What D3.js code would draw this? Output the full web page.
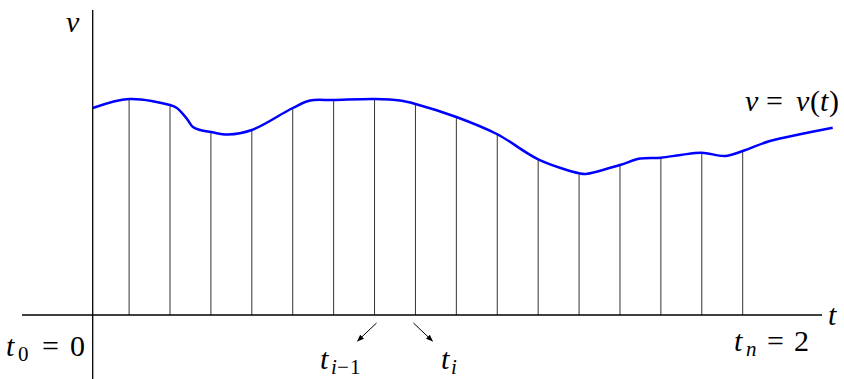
<!DOCTYPE html>
<html><head><meta charset="utf-8">
<script src="https://cdn.jsdelivr.net/npm/d3@7"></script>
</head><body style="margin:0">
<script>
// curve v = v(t)
var tValues = [0.014, 0.125, 0.25, 0.271, 0.302, 0.320, 0.342, 0.375, 0.427, 0.5, 0.625, 0.678, 0.75, 0.875, 0.953, 1.0,
               1.125, 1.25, 1.375, 1.5, 1.52, 1.625, 1.686, 1.75, 1.81, 1.875, 1.946, 2.0, 2.083, 2.175, 2.275];
var vValues = [1.38, 1.44, 1.40, 1.38, 1.307, 1.253, 1.233, 1.22, 1.203, 1.233, 1.38, 1.43, 1.433, 1.44, 1.43, 1.407,
               1.32, 1.205, 1.038, 0.945, 0.94, 1.0, 1.043, 1.049, 1.067, 1.082, 1.06, 1.093, 1.16, 1.205, 1.249];
// partition points t_1 ... t_n
var partition = d3.range(1, 17).map(function(k) { return k / 8; });

// label pieces: main symbols and subscripts
var labelParts = [
  { s: 'v', x: 66, y: 32, it: true },
  { s: 't', x: 828, y: 325, it: true },
  { s: 'v', x: 745, y: 111, it: true }, { s: '=', x: 766, y: 111 }, { s: 'v', x: 796, y: 111, it: true },
  { s: '(', x: 810, y: 111 }, { s: 't', x: 820, y: 111, it: true }, { s: ')', x: 829, y: 111 },
  { s: 't', x: 6, y: 356, it: true }, { s: '0', x: 18, y: 356, sub: true }, { s: '=', x: 42, y: 356 }, { s: '0', x: 70, y: 356 },
  { s: 't', x: 734, y: 351, it: true }, { s: 'n', x: 746, y: 351, it: true, sub: true }, { s: '=', x: 767, y: 351 }, { s: '2', x: 794, y: 351 },
  { s: 't', x: 320, y: 369, it: true }, { s: 'i', x: 331, y: 369, it: true, sub: true },
  { s: '\u2212', x: 337, y: 369, sub: true }, { s: '1', x: 350, y: 369, sub: true },
  { s: 't', x: 441, y: 369, it: true }, { s: 'i', x: 451, y: 369, it: true, sub: true }
];

var fontList = 'Liberation Serif, Tinos, Times New Roman, serif';

var svg = d3.select('body').append('svg').attr('width', 844).attr('height', 379);

var x = d3.scaleLinear().domain([0, 2]).range([88.2, 742.7]);
var y = d3.scaleLinear().domain([0, 2]).range([315, 15]);
var axisX = 92.7;

function vAt(t) {
  var i = tValues.findIndex(function(d) { return Math.abs(d - t) < 1e-6; });
  return vValues[i];
}

// labels
svg.selectAll('text').data(labelParts).enter().append('text')
  .attr('x', function(d) { return d.x; })
  .attr('y', function(d) { return d.sub ? d.y + 5 : d.y; })
  .attr('font-size', function(d) { return d.sub ? 21 : 30; })
  .attr('font-family', fontList)
  .attr('font-style', function(d) { return d.it ? 'italic' : 'normal'; })
  .style('font-family', fontList)
  .text(function(d) { return d.s; });

// vertical partition lines
svg.append('g').selectAll('line')
  .data(partition)
  .enter().append('line')
    .attr('x1', function(d) { return x(d); })
    .attr('x2', function(d) { return x(d); })
    .attr('y1', function(d) { return y(vAt(d)); })
    .attr('y2', y(0))
    .attr('stroke', '#333')
    .attr('stroke-width', 1);

// axes
svg.append('line')
  .attr('x1', 22).attr('x2', 822)
  .attr('y1', y(0)).attr('y2', y(0))
  .attr('stroke', '#000').attr('stroke-width', 1.3);
svg.append('line')
  .attr('x1', axisX).attr('x2', axisX)
  .attr('y1', 10).attr('y2', 379)
  .attr('stroke', '#000').attr('stroke-width', 1.3);

// the curve
var line = d3.line()
  .x(function(d, i) { return x(tValues[i]); })
  .y(function(d) { return y(d); })
  .curve(d3.curveCatmullRom.alpha(0.5));

svg.append('path')
  .datum(vValues)
  .attr('d', line)
  .attr('fill', 'none')
  .attr('stroke', '#0000ff')
  .attr('stroke-width', 2.5);

// arrows
svg.append('defs').append('marker')
  .attr('id', 'head')
  .attr('viewBox', '0 0 10 10')
  .attr('refX', 9).attr('refY', 5)
  .attr('markerWidth', 7).attr('markerHeight', 7)
  .attr('markerUnits', 'userSpaceOnUse')
  .attr('orient', 'auto')
  .append('path')
  .attr('d', 'M0,1L10,5L0,9Z')
  .attr('fill', '#000');

var arrows = [{ t: 7 / 8, dx: -19 }, { t: 1, dx: 19 }];
svg.append('g').selectAll('line')
  .data(arrows)
  .enter().append('line')
    .attr('x1', function(d) { return x(d.t) - 2 * Math.sign(d.dx); })
    .attr('x2', function(d) { return x(d.t) - 2 * Math.sign(d.dx) + d.dx; })
    .attr('y1', y(0) + 8)
    .attr('y2', y(0) + 26)
    .attr('stroke', '#000')
    .attr('stroke-width', 1)
    .attr('marker-end', 'url(#head)');
</script>
</body></html>
